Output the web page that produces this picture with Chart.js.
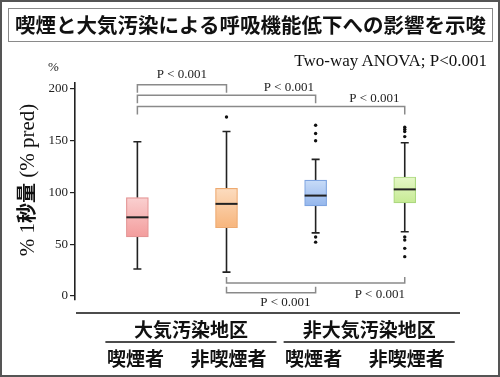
<!DOCTYPE html>
<html>
<head>
<meta charset="utf-8">
<script src="https://cdn.jsdelivr.net/npm/chart.js@4.4.0/dist/chart.umd.min.js"></script>
<style>
  html, body { margin: 0; padding: 0; background: #fff; }
  #wrap { position: relative; width: 500px; height: 377px; overflow: hidden; }
  canvas { position: absolute; left: 0; top: 0; }
  #frame { position: absolute; left: 0; top: 0; width: 500px; height: 377px; box-sizing: border-box; border: 2px solid #555; pointer-events: none; }
  #title { position: absolute; left: 8px; top: 8px; width: 485px; height: 34px; box-sizing: border-box;
    border: 1.5px solid #8a8a8a; font: bold 20.5px "Noto Sans CJK JP"; color: #111; text-align: center; line-height: 31px; white-space: nowrap; }
  #anova { position: absolute; right: 13px; top: 51px; font: 17px "Liberation Serif"; color: #111; white-space: nowrap; }
  #pct { position: absolute; left: 48px; top: 59px; font: 13px "Liberation Serif"; color: #222; }
  #ytitle { position: absolute; left: 25px; top: 180px; transform: translate(-50%, -50%) rotate(-90deg);
    white-space: nowrap; font: 21px "Liberation Serif"; color: #111; }
  #ytitle b { font-family: "Noto Sans CJK JP"; font-weight: bold; font-size: 20px; }
</style>
</head>
<body>
<div id="wrap">
  <canvas id="boxChart" width="500" height="377"></canvas>
  <div id="title">喫煙と大気汚染による呼吸機能低下への影響を示唆</div>
  <div id="anova">Two-way ANOVA; P&lt;0.001</div>
  <div id="pct">%</div>
  <div id="ytitle">% 1<b>秒量</b> (% pred)</div>
  <div id="frame"></div>
</div>
<script>
// data
const groups = ['大気汚染地区', '非大気汚染地区'];
const categories = ['喫煙者', '非喫煙者', '喫煙者', '非喫煙者'];
const whiskerLow = [26, 23, 61, 62];
const q1 = [57, 66, 87, 90];
const median = [76, 89, 97, 103];
const q3 = [95, 104, 112, 115];
const whiskerHigh = [149, 159, 132, 148];
const outliers = [[], [173], [165, 157, 150, 57, 52], [163, 161, 159, 154, 57, 54, 46, 38]];
const yTicks = [0, 50, 100, 150, 200];
const pLabel = 'P < 0.001';
// pairwise comparisons (1-based box index)
const comparisons = [[1, 2], [1, 3], [1, 4], [2, 4], [2, 3]];

// styles
const boxTop = ['#fad0d0', '#fcdcbf', '#c8dcf8', '#e6f8c8'];
const boxBottom = ['#f39c9c', '#f7b57c', '#94b6ec', '#c6ea94'];
const boxBorder = ['#e49494', '#eeaa70', '#7ea4e0', '#acd880'];
// bracket layout: level on y scale, tick direction, label x (in box units) and label offset
const bracketLayout = [
  { level: 204, dir: 1, labelX: 1.5, dy: -10 },
  { level: 194, dir: 1, labelX: 2.7, dy: -8 },
  { level: 183, dir: 1, labelX: 3.66, dy: -8 },
  { level: 12.5, dir: -1, labelX: 3.72, dy: 12 },
  { level: 3, dir: -1, labelX: 2.66, dy: 10 },
];

const outlierPoints = [];
outliers.forEach((list, i) => list.forEach(v => outlierPoints.push({ x: i + 1, y: v })));

const boxExtras = {
  id: 'boxExtras',
  beforeDatasetsDraw(chart) {
    const { ctx } = chart;
    const x = chart.scales.x, y = chart.scales.y;
    ctx.save();
    ctx.strokeStyle = '#222';
    ctx.lineWidth = 1.6;
    categories.forEach((c, i) => {
      const px = x.getPixelForValue(i + 1);
      const hi = y.getPixelForValue(whiskerHigh[i]);
      const lo = y.getPixelForValue(whiskerLow[i]);
      ctx.beginPath();
      ctx.moveTo(px, hi); ctx.lineTo(px, y.getPixelForValue(q3[i]));
      ctx.moveTo(px, y.getPixelForValue(q1[i])); ctx.lineTo(px, lo);
      ctx.moveTo(px - 4, hi); ctx.lineTo(px + 4, hi);
      ctx.moveTo(px - 4, lo); ctx.lineTo(px + 4, lo);
      ctx.stroke();
    });
    ctx.restore();
  },
  afterDatasetsDraw(chart) {
    const { ctx, chartArea } = chart;
    const x = chart.scales.x, y = chart.scales.y;
    ctx.save();
    // medians
    ctx.strokeStyle = '#222';
    ctx.lineWidth = 2;
    categories.forEach((c, i) => {
      const px = x.getPixelForValue(i + 1);
      const pm = y.getPixelForValue(median[i]);
      ctx.beginPath();
      ctx.moveTo(px - 11, pm); ctx.lineTo(px + 11, pm);
      ctx.stroke();
    });
    // brackets
    ctx.strokeStyle = '#8a8a8a';
    ctx.lineWidth = 1.5;
    ctx.fillStyle = '#222';
    ctx.font = '13px "Liberation Serif"';
    ctx.textAlign = 'center';
    ctx.textBaseline = 'middle';
    comparisons.forEach(([a, b], k) => {
      const L = bracketLayout[k];
      const xa = x.getPixelForValue(a), xb = x.getPixelForValue(b);
      const py = y.getPixelForValue(L.level);
      const t = L.dir > 0 ? 8 : 6;
      ctx.beginPath();
      ctx.moveTo(xa, py + L.dir * t); ctx.lineTo(xa, py); ctx.lineTo(xb, py); ctx.lineTo(xb, py + L.dir * t);
      ctx.stroke();
      ctx.fillText(pLabel, x.getPixelForValue(L.labelX), py + L.dy);
    });
    // baseline and category labels
    const base = chartArea.bottom + 13;
    ctx.strokeStyle = '#111';
    ctx.lineWidth = 1.5;
    ctx.beginPath();
    ctx.moveTo(chartArea.left + 1, base); ctx.lineTo(chartArea.right, base);
    ctx.stroke();
    ctx.fillStyle = '#111';
    ctx.font = 'bold 19px "Noto Sans CJK JP"';
    groups.forEach((g, gi) => {
      const x1 = x.getPixelForValue(gi * 2 + 1) - 32;
      const x2 = x.getPixelForValue(gi * 2 + 2) + 50;
      ctx.fillText(g, (x1 + x2) / 2, base + 17);
      ctx.beginPath();
      ctx.moveTo(x1, base + 29); ctx.lineTo(x2, base + 29);
      ctx.stroke();
    });
    categories.forEach((c, i) => {
      const off = i % 2 === 0 ? -2 : 2;
      ctx.fillText(c, x.getPixelForValue(i + 1) + off, base + 46);
    });
    ctx.restore();
  }
};

const canvas = document.getElementById('boxChart');
new Chart(canvas, {
  type: 'bar',
  data: {
    datasets: [
      {
        type: 'bar',
        data: categories.map((c, i) => ({ x: i + 1, y: [q1[i], q3[i]] })),
        backgroundColor: (context) => {
          const chart = context.chart;
          const i = context.dataIndex;
          if (!chart.chartArea || i === undefined) return boxBottom[0];
          const y = chart.scales.y;
          const g = chart.ctx.createLinearGradient(0, y.getPixelForValue(q3[i]), 0, y.getPixelForValue(q1[i]));
          g.addColorStop(0, boxTop[i]);
          g.addColorStop(1, boxBottom[i]);
          return g;
        },
        borderColor: boxBorder,
        borderWidth: 1.2,
        borderSkipped: false,
        barThickness: 22,
        order: 2,
      },
      {
        type: 'scatter',
        data: outlierPoints,
        pointRadius: 1.7,
        pointBackgroundColor: '#111',
        pointBorderWidth: 0,
        order: 1,
      },
    ],
  },
  options: {
    responsive: false,
    animation: false,
    layout: { padding: { left: 45, right: 40, top: 83, bottom: 77 } },
    plugins: { legend: { display: false }, tooltip: { enabled: false } },
    scales: {
      x: { type: 'linear', min: 0.3, max: 4.62, offset: false, display: false },
      y: {
        min: -3.9,
        max: 205.8,
        afterFit: (s) => { s.width = 30; },
        afterBuildTicks: (s) => { s.ticks = yTicks.map(v => ({ value: v })); },
        grid: { drawOnChartArea: false, tickLength: 5, color: '#222', lineWidth: 1.2 },
        border: { color: '#222', width: 1.6 },
        ticks: { font: { family: 'Liberation Serif', size: 13 }, color: '#222', padding: 2 },
      },
    },
  },
  plugins: [boxExtras],
});
</script>
</body>
</html>
